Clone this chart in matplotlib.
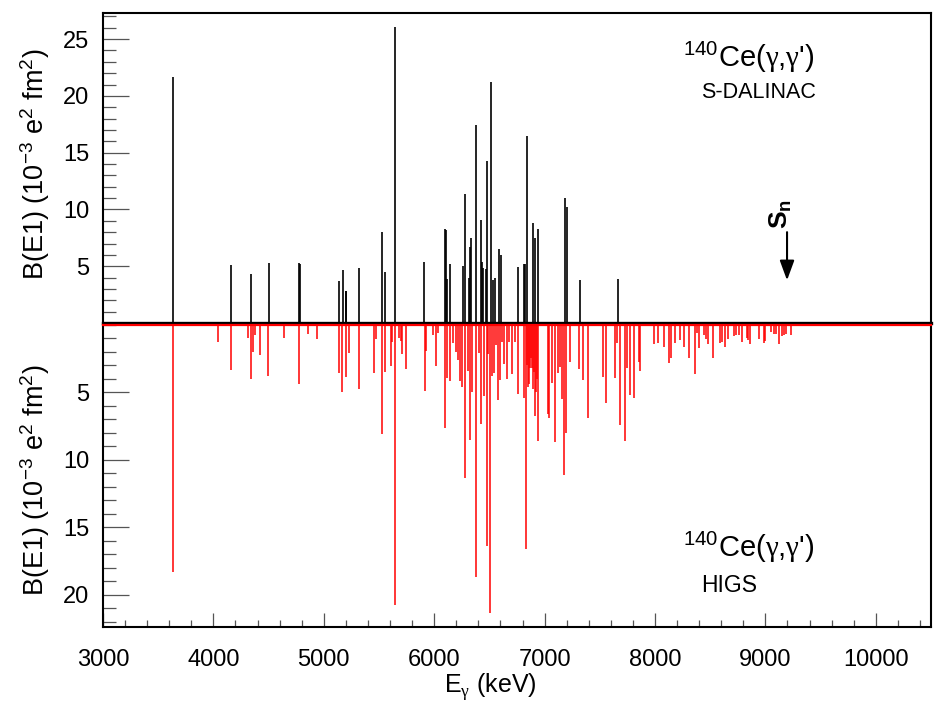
import matplotlib
matplotlib.use("Agg")
import matplotlib.pyplot as plt
from matplotlib.ticker import MultipleLocator, FixedLocator

plt.rcParams['font.family'] = ['Liberation Sans', 'DejaVu Sans']
plt.rcParams['mathtext.fontset'] = 'custom'
plt.rcParams['mathtext.rm'] = 'Liberation Sans'
plt.rcParams['mathtext.it'] = 'Liberation Sans:italic'
plt.rcParams['mathtext.bf'] = 'Liberation Sans:bold'
plt.rcParams['mathtext.sf'] = 'Liberation Serif'

# S-DALINAC transitions (keV, B(E1) in 1e-3 e^2 fm^2)
e_sdalinac = [3634, 4162, 4343, 4504, 4775, 4782, 5138, 5174, 5198, 5205, 5319,
              5530, 5554, 5641, 5910, 6100, 6106, 6116, 6146, 6261, 6279, 6313,
              6322, 6333, 6379, 6422, 6431, 6446, 6470, 6479, 6518, 6531, 6554,
              6587, 6603, 6760, 6817, 6824, 6842, 6891, 6915, 6942, 7189, 7200,
              7325, 7662]
b_sdalinac = [21.7, 5.15, 4.3, 5.3, 5.27, 5.2, 3.7, 4.65, 2.8, 2.8, 4.8,
              8.0, 4.5, 26.05, 5.4, 8.27, 8.2, 3.85, 5.2, 5.0, 11.4, 4.0,
              6.65, 7.45, 17.4, 9.1, 5.4, 4.8, 4.75, 14.3, 21.2, 3.75, 4.0,
              6.5, 6.0, 4.94, 5.2, 5.2, 16.5, 8.8, 7.47, 8.24, 11.0, 10.2,
              3.76, 3.85]

# HIGS transitions
e_higs = [3635, 4042, 4156, 4317, 4341, 4356, 4377, 4422, 4498, 4640, 4775, 4860,
          4935, 5141, 5168, 5198, 5225, 5319, 5455, 5476, 5527, 5554, 5609, 5621,
          5645, 5684, 5697, 5708, 5741, 5913, 5922, 5986, 6016, 6036, 6098, 6116,
          6143, 6170, 6195, 6219, 6237, 6255, 6279, 6306, 6324, 6345, 6379, 6406,
          6427, 6451, 6476, 6491, 6505, 6521, 6539, 6560, 6581, 6596, 6612, 6630,
          6657, 6682, 6705, 6729, 6755, 6813, 6834, 6842, 6850, 6858, 6868, 6876,
          6886, 6898, 6904, 6910, 6922, 6928, 6937, 7028, 7042, 7067, 7097, 7121,
          7142, 7158, 7179, 7197, 7227, 7312, 7351, 7393, 7532, 7556, 7640, 7656,
          7686, 7726, 7744, 7774, 7807, 7852, 7864, 7994, 8027, 8082, 8127, 8148,
          8178, 8229, 8263, 8308, 8359, 8380, 8399, 8441, 8459, 8483, 8522, 8586,
          8604, 8631, 8664, 8713, 8736, 8761, 8791, 8830, 8842, 8857, 8944, 8987,
          8999, 9047, 9077, 9093, 9120, 9147, 9168, 9184, 9235]
b_higs = [18.3, 1.3, 3.4, 0.97, 4.0, 2.06, 0.78, 2.28, 3.8, 1.0, 4.4, 0.73,
          1.07, 3.57, 5.0, 3.86, 2.08, 4.8, 3.57, 1.05, 8.13, 3.5, 3.05, 1.27,
          20.8, 1.02, 1.2, 2.18, 3.27, 4.95, 1.96, 0.77, 3.05, 0.63, 7.64, 3.93,
          4.2, 1.39, 2.0, 2.6, 4.2, 4.6, 11.4, 3.44, 8.55, 5.0, 18.7, 2.13,
          7.4, 5.3, 16.4, 2.2, 21.35, 3.79, 3.6, 1.5, 5.6, 4.1, 1.27, 2.9,
          4.0, 1.27, 3.64, 1.27, 5.17, 5.47, 16.6, 3.0, 4.6, 4.4, 3.2, 2.5,
          3.24, 4.78, 3.5, 6.75, 5.0, 4.0, 8.6, 6.65, 6.9, 4.36, 8.68, 3.6,
          3.12, 5.5, 11.15, 8.06, 2.8, 3.3, 4.13, 6.95, 3.88, 5.84, 3.93, 1.39,
          7.44, 8.63, 3.2, 5.2, 5.47, 2.75, 3.42, 1.44, 1.39, 1.66, 2.82, 2.5,
          1.39, 1.17, 1.66, 2.5, 3.64, 0.63, 1.71, 0.78, 1.07, 1.47, 2.5, 1.34,
          1.27, 1.66, 1.07, 0.82, 0.78, 0.78, 1.27, 0.97, 1.17, 1.47, 1.07, 1.39,
          1.2, 0.58, 0.73, 0.73, 1.47, 0.82, 0.78, 0.73, 0.78]

s_n = 9196

W, H = 934, 704
def box(l, t, r, b):
    return [l / W, 1 - b / H, (r - l) / W, (b - t) / H]

fig = plt.figure(figsize=(W / 100, H / 100), dpi=100)
ax1 = fig.add_axes(box(103, 13, 931, 323))
ax2 = fig.add_axes(box(103, 324.5, 931, 627), sharex=ax1)

ax1.vlines(e_sdalinac, 0, b_sdalinac, color='black', lw=1.2)
ax2.vlines(e_higs, 0, b_higs, color='red', lw=1.1)

ax1.set_xlim(3000, 10500)
ax1.set_ylim(0, 27.3)
ax2.set_ylim(22.4, 0)

for ax in (ax1, ax2):
    for s in ax.spines.values():
        s.set_linewidth(1.5)
ax1.spines['bottom'].set_linewidth(2.4)
ax2.spines['top'].set_color('red')
ax2.spines['top'].set_linewidth(1.6)

ax1.yaxis.set_major_locator(FixedLocator([5, 10, 15, 20, 25]))
ax1.yaxis.set_minor_locator(MultipleLocator(1))
ax2.yaxis.set_major_locator(FixedLocator([5, 10, 15, 20]))
ax2.yaxis.set_minor_locator(MultipleLocator(1))
ax2.xaxis.set_major_locator(MultipleLocator(1000))
ax2.xaxis.set_minor_locator(MultipleLocator(200))

tick_col = '#555555'
ax1.tick_params(axis='x', which='both', bottom=False, top=False, labelbottom=False)
for ax in (ax1, ax2):
    ax.tick_params(axis='y', which='major', direction='in', length=19, width=0.9,
                   color=tick_col, labelsize=17, pad=10, right=False)
    ax.tick_params(axis='y', which='minor', direction='in', length=9.5, width=0.9,
                   color=tick_col, right=False)
ax2.tick_params(axis='x', which='major', direction='in', length=10, width=0.9,
                color=tick_col, labelsize=17, pad=16, top=False)
ax2.tick_params(axis='x', which='minor', direction='in', length=5, width=0.9,
                color=tick_col, top=False)

# S_n arrow
ax1.annotate('', xy=(s_n, 3.76), xytext=(s_n, 8.0),
             arrowprops=dict(arrowstyle='-|>,head_length=0.6,head_width=0.22',
                             color='black', lw=1.5, mutation_scale=20,
                             shrinkA=0, shrinkB=0))
ax1.text(s_n - 60, 8.3, r"S$_\mathregular{n}$", rotation=90, ha='center', va='bottom',
         fontsize=19, fontweight='bold')

title = r"$^{140}$Ce($\mathsf{\gamma}$,$\mathsf{\gamma}$')"
fig.text(683 / W, 1 - 57 / H, title, fontsize=21, ha='left', va='center')
fig.text(701 / W, 1 - 92 / H, "S-DALINAC", fontsize=15.5, ha='left', va='center')
fig.text(683 / W, 1 - 547 / H, title, fontsize=21, ha='left', va='center')
fig.text(701 / W, 1 - 585 / H, "HIGS", fontsize=16.5, ha='left', va='center')

ylab = r"B(E1) (10$^{-3}$ e$^{2}$ fm$^{2}$)"
fig.text(35 / W, 1 - 164 / H, ylab, rotation=90, ha='center', va='center', fontsize=19.5)
fig.text(35 / W, 1 - 480 / H, ylab, rotation=90, ha='center', va='center', fontsize=19.5)
fig.text(490 / W, 1 - 693 / H, r"E$_\mathsf{\gamma}$ (keV)", ha='center', va='baseline',
         fontsize=18)

fig.savefig("out.png", dpi=100)
